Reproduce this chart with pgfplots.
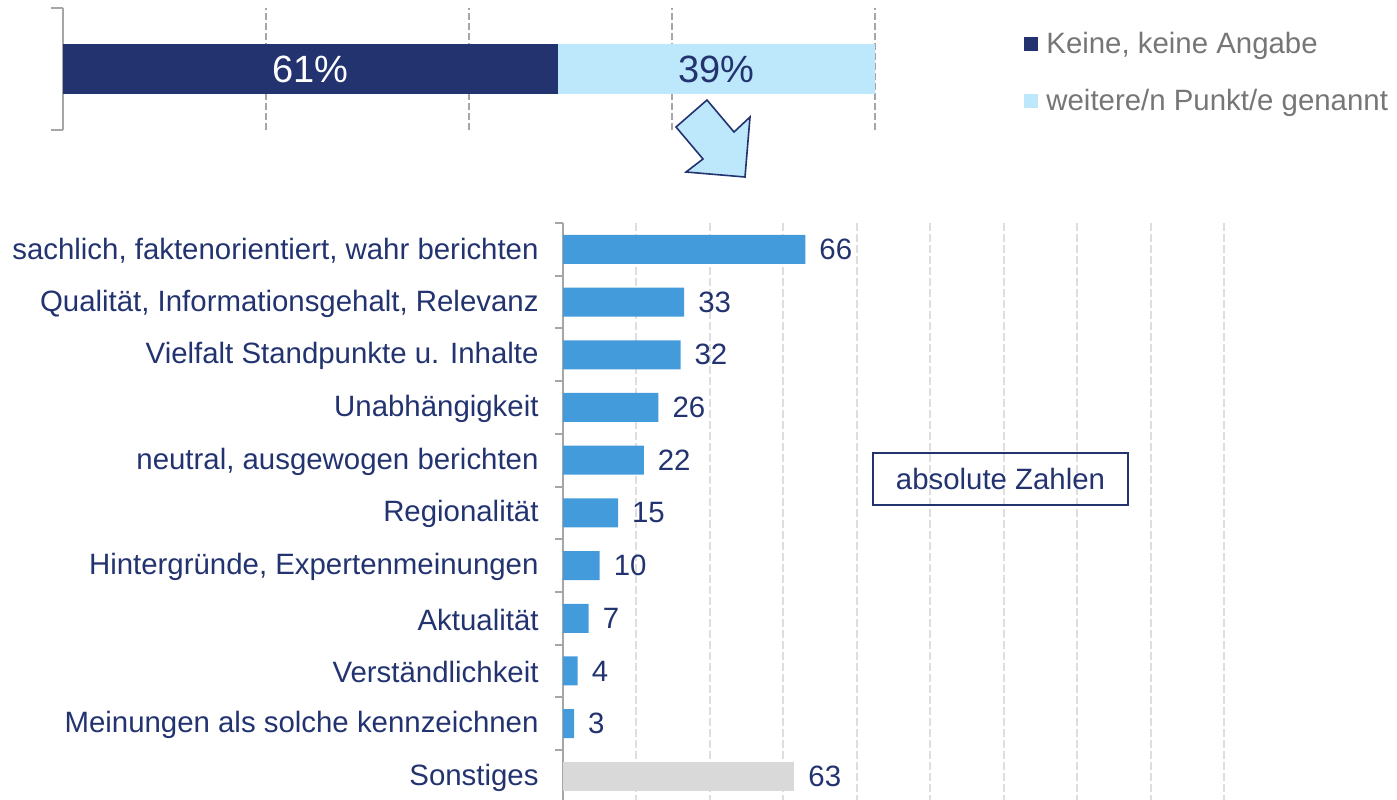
\documentclass[border=0pt]{standalone}
\usepackage{fontspec}
\setmainfont{Liberation Sans}
\usepackage{pgfplots}
\pgfplotsset{compat=1.18}
\definecolor{navy}{RGB}{34,51,112}
\definecolor{lightblue}{RGB}{189,231,250}
\definecolor{barblue}{RGB}{68,155,219}
\definecolor{sgray}{RGB}{217,217,217}
\definecolor{legendgray}{RGB}{118,118,118}
\definecolor{gridtop}{RGB}{166,166,166}
\definecolor{gridbot}{RGB}{222,222,222}
\begin{document}
\begin{tikzpicture}[font=\fontsize{14.7}{17}\selectfont]
\useasboundingbox (0,0) rectangle (698.5pt,-399.5pt);
\begin{axis}[
  at={(31.5pt,-65pt)}, anchor=south west,
  width=406pt, height=61pt, scale only axis,
  xmin=0, xmax=100, ymin=-1, ymax=1,
  xbar stacked, bar width=25pt,
  axis lines*=left,
  x axis line style={draw=none},
  y axis line style={draw=gridtop, line width=1pt},
  xtick={25,50,75,100}, xticklabels={}, xtick style={draw=none},
  xmajorgrids, grid style={draw=gridtop, line width=1pt, dash pattern=on 3.5pt off 1.5pt},
  ytick={-1,1}, yticklabels={}, tick align=outside, major tick length=6pt,
  every tick/.append style={draw=gridtop, line width=1pt},
  legend style={at={(1.1835,0.47)}, anchor=west, draw=none, fill=none, inner sep=0pt,
    text=legendgray, row sep=12.5pt, font=\fontsize{14.7}{17}\selectfont},
  legend cell align=left,
  legend image code/.code={\fill[#1] (0pt,-3.5pt) rectangle (7pt,3.5pt); \path (9pt,0pt);},
  clip=false,
]
\addplot[fill=navy, draw=none, nodes near coords={61\%},
  nodes near coords style={text=white, font=\fontsize{19}{22}\selectfont, anchor=center}]
  coordinates {(61,0)};
\addplot[fill=lightblue, draw=none, nodes near coords={39\%},
  nodes near coords style={text=navy, font=\fontsize{19}{22}\selectfont, anchor=center}]
  coordinates {(39,0)};
\legend{{Keine, keine Angabe}, {weitere/n Punkt/e genannt}}
\end{axis}
\filldraw[fill=lightblue, draw=navy, line width=0.8pt, line join=miter]
  (353.5pt,-50pt) -- (367pt,-66pt) -- (375pt,-58.5pt) -- (372.5pt,-88.5pt) --
  (343pt,-86pt) -- (351.5pt,-79.5pt) -- (338pt,-63.5pt) -- cycle;
\begin{axis}[
  at={(281.5pt,-111.5pt)}, anchor=north west,
  width=330.5pt, height=289.85pt, scale only axis,
  xmin=0, xmax=180, ymin=-0.5, ymax=10.5, y dir=reverse,
  xbar, bar width=14.5pt, bar shift=0pt,
  axis lines*=left,
  x axis line style={draw=none},
  y axis line style={draw=gridtop, line width=1pt},
  xtick={0,20,...,180}, xticklabels={}, xtick style={draw=none},
  xmajorgrids, grid style={draw=gridbot, line width=1pt, dash pattern=on 4pt off 1.5pt},
  ytick={0,...,10},
  yticklabels={{sachlich, faktenorientiert, wahr berichten},{Qualität, Informationsgehalt, Relevanz},
    {Vielfalt Standpunkte u. Inhalte},{Unabhängigkeit},{neutral, ausgewogen berichten},
    {Regionalität},{Hintergründe, Expertenmeinungen},{Aktualität},{Verständlichkeit},
    {Meinungen als solche kennzeichnen},{Sonstiges}},
  major tick length=0pt,
  minor ytick={-0.5,0.5,...,10.5}, minor tick length=4pt, tick align=outside,
  every minor tick/.append style={draw=gridtop, line width=1pt},
  yticklabel style={text=navy, xshift=-8.7pt, yshift=-0.7pt},
  nodes near coords, nodes near coords style={text=navy, xshift=3.5pt},
  /pgf/number format/assume math mode=true,
  clip=false,
]
\addplot[fill=barblue, draw=none] coordinates {(66,0) (33,1) (32,2) (26,3) (22,4) (15,5) (10,6) (7,7) (4,8) (3,9)};
\addplot[fill=sgray, draw=none] coordinates {(63,10)};
\end{axis}
\node[draw=navy, line width=0.85pt, text=navy, minimum width=127.5pt, minimum height=26pt, inner sep=0pt]
  at (500.25pt,-239.5pt) {absolute Zahlen};
\end{tikzpicture}
\end{document}
